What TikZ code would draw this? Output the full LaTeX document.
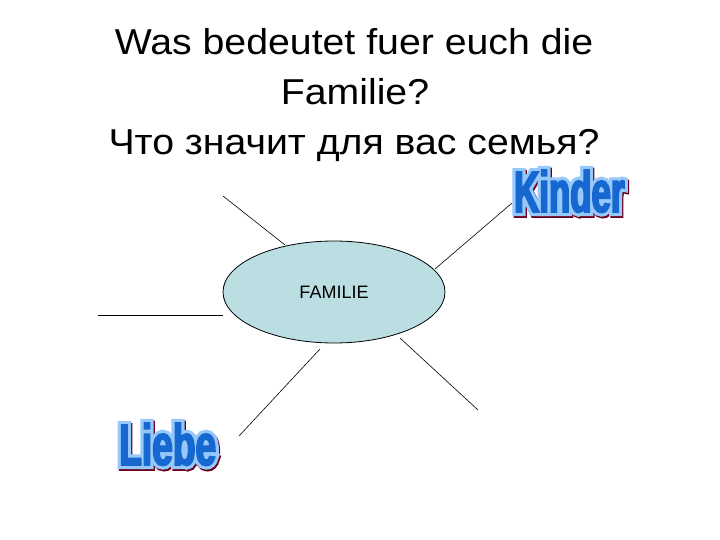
\documentclass[tikz,border=0pt]{standalone}
\usepackage{fontspec}
\usetikzlibrary{shapes.geometric}
\setmainfont{Liberation Sans}
\newfontfamily\titlefont[FakeStretch=1.09]{Liberation Sans}
\newfontfamily\kinderfill[FakeStretch=0.6,FakeBold=3]{Liberation Sans Bold}
\newfontfamily\kinderedge[FakeStretch=0.6,FakeBold=14]{Liberation Sans Bold}
\newfontfamily\liebefill[FakeStretch=0.64,FakeBold=3]{Liberation Sans Bold}
\newfontfamily\liebeedge[FakeStretch=0.64,FakeBold=14]{Liberation Sans Bold}
\definecolor{famfill}{RGB}{187,222,227}
\definecolor{artblue}{RGB}{22,104,208}
\definecolor{artlight}{RGB}{150,200,250}
\definecolor{artshadow}{RGB}{110,0,30}
\newcommand{\artword}[3]{%
  \fontsize{58}{64}%
  \rlap{\hspace{1.2pt}\raisebox{-1.8pt}{#2\selectfont\textcolor{artshadow}{#3}}}%
  \rlap{#2\selectfont\textcolor{artlight}{#3}}%
  #1\selectfont\textcolor{artblue}{#3}}
\tikzset{
  titletext/.style={anchor=base, inner sep=0pt, font=\titlefont\fontsize{36}{40}\selectfont},
  famnode/.style={ellipse, draw=black, line width=0.8pt, fill=famfill, minimum width=222pt, minimum height=102pt, inner sep=0pt, font=\fontsize{18}{22}\selectfont},
  spoke/.style={draw=black, line width=0.6pt},
  arttext/.style={anchor=base west, inner sep=0pt}
}
\begin{document}
\begin{tikzpicture}[x=1pt,y=-1pt]
\useasboundingbox (0,0) rectangle (720,540);
\node[titletext] (t1) at (354,55) {Was bedeutet fuer euch die};
\node[titletext] (t2) at (355,105) {Familie?};
\node[titletext] (t3) at (354,155) {Что значит для вас семья?};

\node[famnode] (fam) at (334,292) {FAMILIE};

\coordinate (a1) at (223,196); \coordinate (b1) at (285,245);
\coordinate (a2) at (512,203); \coordinate (b2) at (435,269);
\coordinate (a3) at (98,315);  \coordinate (b3) at (223,315);
\coordinate (a4) at (239,436); \coordinate (b4) at (320,349);
\coordinate (a5) at (478,410); \coordinate (b5) at (400,338);
\draw[spoke] (a1) -- (b1);
\draw[spoke] (a2) -- (b2);
\draw[spoke] (a3) -- (b3);
\draw[spoke] (a4) -- (b4);
\draw[spoke] (a5) -- (b5);

\node[arttext] (kinder) at (514,212) {\artword{\kinderfill}{\kinderedge}{Kinder}};
\node[arttext] (liebe) at (119,465) {\artword{\liebefill}{\liebeedge}{Liebe}};
\end{tikzpicture}
\end{document}
